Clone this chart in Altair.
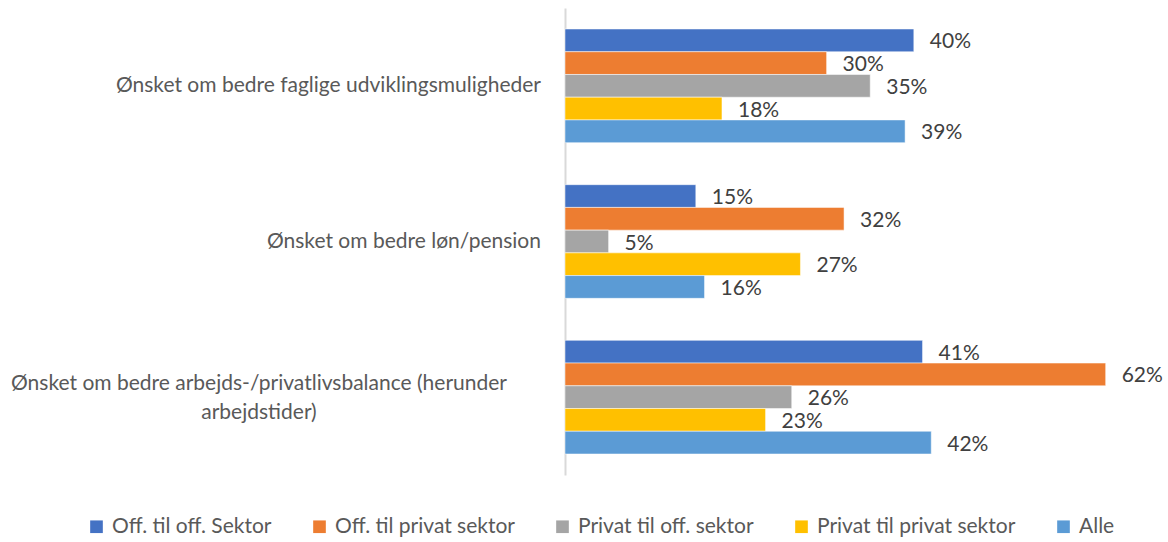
import altair as alt
import pandas as pd

categories = [
    "Ønsket om bedre faglige udviklingsmuligheder",
    "Ønsket om bedre løn/pension",
    "Ønsket om bedre arbejds-/privatlivsbalance (herunder arbejdstider)",
]
series = [
    "Off. til off. Sektor",
    "Off. til privat sektor",
    "Privat til off. sektor",
    "Privat til privat sektor",
    "Alle",
]
off_off = [40, 15, 41]
off_priv = [30, 32, 62]
priv_off = [35, 5, 26]
priv_priv = [18, 27, 23]
alle = [39, 16, 42]
colors = ["#4472C4", "#ED7D31", "#A5A5A5", "#FFC000", "#5B9BD5"]

FONT = "Lato"
TXT = "#595959"

rows = []
for i, c in enumerate(categories):
    for s, vals in zip(series, [off_off, off_priv, priv_off, priv_priv, alle]):
        rows.append({"cat": c, "series": s, "value": vals[i], "label": f"{vals[i]}%"})
df = pd.DataFrame(rows)

y = alt.Y(
    "cat:N",
    sort=categories,
    scale=alt.Scale(domain=categories, paddingInner=0.27, paddingOuter=0.135),
    axis=alt.Axis(labels=False, ticks=False, title=None, domainColor="#d9d9d9",
                  domainWidth=2, grid=False),
)
yoff = alt.YOffset("series:N", sort=series,
                   scale=alt.Scale(domain=series, paddingInner=0, paddingOuter=0))
x = alt.X("value:Q", scale=alt.Scale(domain=[0, 68]), axis=None)

bars = alt.Chart(df).mark_bar(stroke="white", strokeWidth=0.5).encode(
    x=x, y=y, yOffset=yoff,
    color=alt.Color(
        "series:N", sort=series,
        scale=alt.Scale(domain=series, range=colors),
        legend=alt.Legend(
            title=None, orient="none", direction="horizontal", columns=5,
            legendX=-479, legendY=508, symbolType="square", symbolSize=160,
            symbolStrokeWidth=0, labelFontSize=21, labelFont=FONT, labelColor=TXT,
            columnPadding=37, labelOffset=5, labelLimit=400,
        ),
    ),
)

text = alt.Chart(df).mark_text(
    align="left", baseline="middle", dx=16, dy=2, fontSize=21, font=FONT, color="#404040"
).encode(x=x, y=y, yOffset=yoff, text="label:N")

lab_df = pd.DataFrame({"cat": categories[:2], "t": categories[:2]})
lab_right = alt.Chart(lab_df).mark_text(
    align="right", baseline="middle", fontSize=21, font=FONT, color=TXT
).encode(x=alt.value(-24), y=y, text="t:N")

lab3_df = pd.DataFrame({"cat": [categories[2]],
                        "t": ["Ønsket om bedre arbejds-/privatlivsbalance (herunder\narbejdstider)"]})
lab_center = alt.Chart(lab3_df).mark_text(
    align="center", baseline="middle", fontSize=21, font=FONT, color=TXT,
    lineBreak="\n", lineHeight=29, dy=-13
).encode(x=alt.value(-306), y=y, text="t:N")

chart = alt.layer(bars, text, lab_right, lab_center).properties(
    width=593, height=467,
    background="white",
    autosize=alt.AutoSizeParams(type="none"),
    padding={"left": 565, "top": 8, "right": 10, "bottom": 67},
).configure_view(strokeWidth=0, stroke="transparent")

chart.save("out.html", embed_options={"renderer": "svg", "actions": False})
